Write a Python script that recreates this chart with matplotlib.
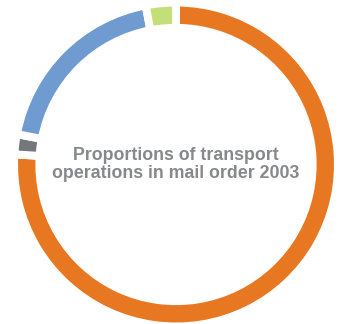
import matplotlib.pyplot as plt

# Anteile der Transportarten (Versandhandel 2003)
labels = ['Orange', 'Grey', 'Blue', 'Green']
values = [76, 2, 19, 3]
colors = ['#E87722', '#75787B', '#6F9BD1', '#C4DE7A']

title = 'Proportions of transport\noperations in mail order 2003'

fig = plt.figure(figsize=(3.44, 3.24), dpi=100)
ax = fig.add_axes([0, 0, 1, 1])

# weisser Rand frisst einen halben Strich innen und aussen
ax.pie(values, colors=colors, startangle=90, counterclock=False,
       radius=1.025,
       wedgeprops=dict(width=0.16, edgecolor='white', linewidth=5.7))

ax.text(0, 0, title, ha='center', va='center', fontsize=12.8,
        fontweight='bold', color='#86888B', family='Liberation Sans',
        linespacing=1.1)

ax.set_xlim(-176 / 158, (344 - 176) / 158)
ax.set_ylim(-(324 - 164.5) / 158, 164.5 / 158)
ax.set_aspect('auto')
ax.axis('off')

fig.savefig('out.png', dpi=100)
